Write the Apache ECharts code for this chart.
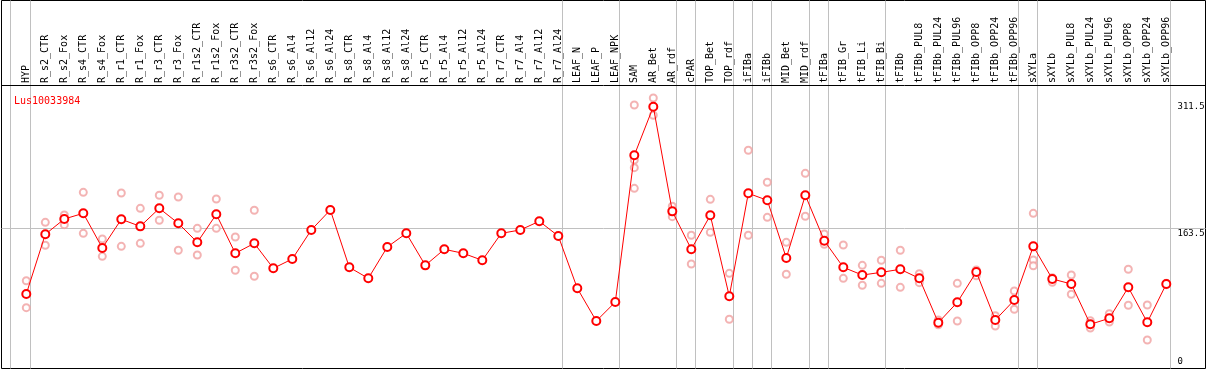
<!DOCTYPE html>
<html>
<head>
<meta charset="utf-8">
<script src="https://cdn.jsdelivr.net/npm/echarts@6/dist/echarts.min.js"></script>
<style>
html,body{margin:0;padding:0;background:#fff;}
#chart{width:1209px;height:370px;}
</style>
</head>
<body>
<div id="chart"></div>
<script>
const geneName = 'Lus10033984';

const categories = ['HYP','R_s2_CTR','R_s2_Fox','R_s4_CTR','R_s4_Fox','R_r1_CTR','R_r1_Fox','R_r3_CTR','R_r3_Fox',
  'R_r1s2_CTR','R_r1s2_Fox','R_r3s2_CTR','R_r3s2_Fox','R_s6_CTR','R_s6_Al4','R_s6_Al12','R_s6_Al24',
  'R_s8_CTR','R_s8_Al4','R_s8_Al12','R_s8_Al24','R_r5_CTR','R_r5_Al4','R_r5_Al12','R_r5_Al24',
  'R_r7_CTR','R_r7_Al4','R_r7_Al12','R_r7_Al24','LEAF_N','LEAF_P','LEAF_NPK','SAM','AR_Bet','AR_rdf',
  'cPAR','TOP_Bet','TOP_rdf','iFIBa','iFIBb','MID_Bet','MID_rdf','tFIBa','tFIB_Gr','tFIB_Li','tFIB_Bi',
  'tFIBb','tFIBb_PUL8','tFIBb_PUL24','tFIBb_PUL96','tFIBb_OPP8','tFIBb_OPP24','tFIBb_OPP96','sXYLa',
  'sXYLb','sXYLb_PUL8','sXYLb_PUL24','sXYLb_PUL96','sXYLb_OPP8','sXYLb_OPP24','sXYLb_OPP96'];

const meanValues = [83.0,155.8,174.5,181.4,139.1,174.1,165.5,187.5,169.2,146.0,180.2,132.6,144.8,
  114.3,125.7,161.1,185.5,115.5,102.1,140.3,157.0,117.9,137.5,132.6,124.1,157.0,161.1,171.7,153.7,89.9,50.0,73.2,
  252.2,311.5,183.8,137.5,179.0,80.2,205.8,197.3,126.9,203.4,148.0,115.5,106.1,109.4,113.1,102.1,48.0,72.8,
  109.8,51.2,75.6,141.1,101.3,95.2,46.0,53.3,91.1,48.4,95.2];

const replicateValues = [
  [99.2,66.3],[170.4,142.4],[179.4,167.6],[207.0,157.0],[150.1,128.9],[206.2,141.1],[187.5,144.8],
  [203.4,172.9],[201.3,136.3],[163.1,130.6],[198.9,163.1],[152.5,111.9],[185.1,104.6],
  [],[],[],[],[],[],[],[],[],[],[],[],[],[],[],[],[],[],[],
  [313.6,246.5,237.1,211.9],[322.1,301.0],[190.0,177.3],[154.6,119.6],[198.5,158.2],[108.2,52.1],
  [258.3,154.6],[219.3,176.5],[146.0,107.0],[230.2,177.8],[156.2,143.6],[142.8,102.1],[117.9,93.6],
  [124.1,96.0],[136.3,91.1],[107.8,96.8],[51.2,45.5],[96.0,50.0],[112.3,105.3],[56.5,43.9],[86.6,64.3],
  [181.4,124.5,117.5],[102.9,97.2],[106.1,82.6],[50.4,41.5],[58.9,48.8],[113.1,69.2],[69.5,26.8],[96.0,94.4]
];

const groupEnds = ['HYP','R_r7_Al24','LEAF_NPK','AR_rdf','cPAR','TOP_rdf','iFIBa','iFIBb','MID_rdf',
  'tFIBa','tFIB_Bi','tFIBb_OPP96','sXYLa','sXYLb_OPP96'];

const yTickLabels = [0, 163.5, 311.5];
const referenceValue = 163.5;

const MONO = 'DejaVu Sans Mono';

const meanData = meanValues.map((v, i) => [i, v]);
const repData = [];
replicateValues.forEach((arr, i) => arr.forEach(v => repData.push([i, v])));

const sepOffset = 0.21;
const sepLines = [{ xAxis: -1 + sepOffset - 0.05 }].concat(
  groupEnds.map(n => ({ xAxis: categories.indexOf(n) + sepOffset })));

// layout: plot frame ; category pitch 19px, first centre at 26.3
const frameL = 1.5, frameR = 1205.5, frameT = 0.5, frameB = 368.5;
const pitch = 19, firstX = 26.3;
const zeroY = 362, pxPerUnit = 0.8196;
const headerY = 85;

const chart = echarts.init(document.getElementById('chart'), null, { renderer: 'canvas' });
chart.setOption({
  animation: false,
  backgroundColor: '#fff',
  title: {
    text: geneName, left: 9, top: 91,
    textStyle: { color: '#ff0000', fontFamily: MONO, fontSize: 10, fontWeight: 'normal' }
  },
  grid: [
    { left: frameL, right: 1209 - frameR, top: frameT, bottom: 370 - frameB,
      show: true, borderColor: '#000', borderWidth: 1, backgroundColor: 'transparent' },
    { left: firstX - pitch / 2, width: pitch * categories.length, top: headerY - 1, height: 1, show: false }
  ],
  xAxis: [
    { type: 'value', gridIndex: 0,
      min: (frameL - firstX) / pitch, max: (frameR - firstX) / pitch,
      show: false },
    { type: 'category', gridIndex: 1, data: categories, position: 'top',
      axisLine: { show: false }, axisTick: { show: false }, splitLine: { show: false },
      axisLabel: { interval: 0, rotate: 90, margin: 1, color: '#000', fontFamily: MONO, fontSize: 10 } }
  ],
  yAxis: [
    { type: 'value', gridIndex: 0, position: 'right',
      min: (zeroY - frameB) / pxPerUnit, max: (zeroY - frameT) / pxPerUnit,
      axisLine: { show: false }, axisTick: { show: false }, splitLine: { show: false },
      axisLabel: {
        inside: true, align: 'left', margin: 28, color: '#000', fontFamily: MONO, fontSize: 9,
        customValues: yTickLabels,
        formatter: v => (v === referenceValue ? '{d|' + v + '}' : String(v)),
        rich: { d: { padding: [12, 0, 0, 0], fontFamily: MONO, fontSize: 9, color: '#000' } }
      } },
    { type: 'value', gridIndex: 1, show: false }
  ],
  series: [
    { type: 'scatter', xAxisIndex: 0, yAxisIndex: 0, data: repData,
      symbol: 'emptyCircle', symbolSize: 7, z: 3,
      itemStyle: { color: '#f0a0a0', borderColor: '#f0a0a0', borderWidth: 1.2 },
      markLine: {
        silent: true, symbol: 'none', label: { show: false }, z: 1,
        lineStyle: { color: '#c0c0c0', type: 'solid', width: 1 },
        data: sepLines.concat([{ yAxis: referenceValue }])
      } },
    { type: 'line', xAxisIndex: 0, yAxisIndex: 0, data: meanData,
      symbol: 'emptyCircle', symbolSize: 8, z: 4,
      lineStyle: { color: '#ff0000', width: 1 },
      itemStyle: { color: '#ff0000', borderColor: '#ff0000', borderWidth: 1.6 },
      markLine: {
        silent: true, symbol: 'none', label: { show: false },
        lineStyle: { color: '#000', type: 'solid', width: 1 },
        data: [{ yAxis: (zeroY - headerY) / pxPerUnit }]
      } }
  ]
});
</script>
</body>
</html>
